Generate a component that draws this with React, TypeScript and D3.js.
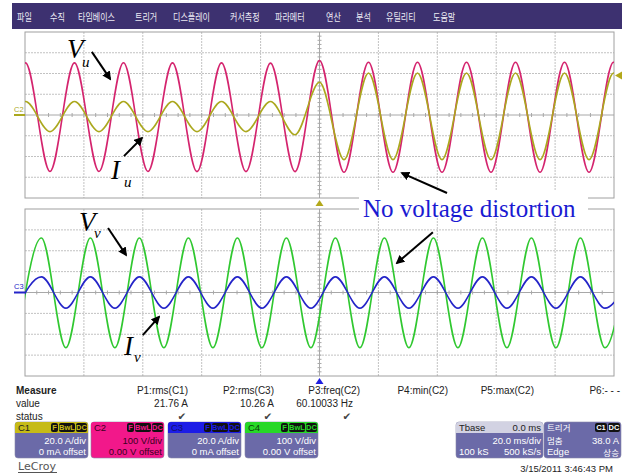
import React from 'react';
import * as d3 from 'd3';

// ---------------- data ----------------
const menuItems = ['파일', '수직', '타임베이스', '트리거', '디스플레이', '커서측정', '파라메터', '연산', '분석', '유틸리티', '도움말'];

const timeDomain = [-100, 100]; // ms : 10 div x 20 ms/div
const voltDomain = [-400, 400]; // V  : 8 div x 100 V/div
const ampDomain = [-80, 80]; // A  : 8 div x 20 A/div

// extremum instants (ms) of phase U traces (trough, peak, trough ...)
const tU = [-108.16, -99.84, -91.52, -83.2, -74.88, -66.56, -58.24, -49.92, -41.6, -33.28, -24.96, -16.64, -8.32, 0, 8.32, 16.64, 24.96, 33.28, 41.6, 49.92, 58.24, 66.56, 74.88, 83.2, 91.52, 99.84, 108.16];
// Vu extremes (V)
const vuExt = [-272, 251, -272, 251, -272, 252, -272, 251, -273, 251, -273, 250, -273, 262, -276, 254, -276, 254, -276, 254, -276, 254, -276, 254, -276, 254, -276];
// Iu extremes (A)
const iuExt = [-16, 13, -16, 13, -16, 13, -16, 13, -16, 13, -16, 13, -19, 31.5, -43, 40.5, -43, 40.5, -43, 40.5, -43, 40.5, -43, 40.5, -43, 40.5, -43];

// extremum instants (ms) of phase V traces
const tV = [-102.76, -94.44, -86.12, -77.8, -69.48, -61.16, -52.84, -44.52, -36.2, -27.88, -19.56, -11.24, -2.92, 5.4, 13.72, 22.04, 30.36, 38.68, 47, 55.32, 63.64, 71.96, 80.28, 88.6, 96.92, 105.24];
const vvExt = [-265, 261, -265, 261, -265, 261, -265, 261, -265, 261, -265, 261, -265, 261, -265, 261, -265, 261, -265, 261, -265, 261, -265, 261, -265, 261];
const ivExt = [-15, 15, -15, 15, -15, 15, -15, 15, -15, 15, -15, 15, -15, 15, -15, 15, -15, 15, -15, 15, -15, 15, -15, 15, -15, 15];

const triggerLevel = 38; // A on C1

const measureNames = ['P1:rms(C1)', 'P2:rms(C3)', 'P3:freq(C2)', 'P4:min(C2)', 'P5:max(C2)', 'P6:- - -'];
const measureValues = ['21.76 A', '10.26 A', '60.10033 Hz', '', '', ''];
const measureStatus = [true, true, true, false, false, false];

const chNames = ['C1', 'C2', 'C3', 'C4'];
const chScales = ['20.0 A/div', '100 V/div', '20.0 A/div', '100 V/div'];
const chOffsets = ['0 mA offset', '0.00 V offset', '0 mA offset', '0.00 V offset'];

// ---------------- layout / style ----------------
const W = 626;
const H = 474;
const PX0 = 25;
const PX1 = 614;
const panels = [
  { top: 32, bottom: 198 },
  { top: 209, bottom: 376 },
];
const menuX = [17, 50, 78, 135, 173, 230, 275, 326, 356, 386, 433];
const measureRight = [188, 274, 360, 448, 534, 620];
const valueRight = [188, 274, 353];
const boxX = [15, 91, 168, 245];
const boxW = 73;

const C_VU = '#d4246e';
const C_IU = '#aba81e';
const C_VV = '#30c830';
const C_IV = '#2424c8';
const BODY = '#6b6aa8';
const HEAD = ['#c6bb17', '#f2188a', '#1c1ce6', '#27d827'];
const HEADTXT = ['#222', '#3a0020', '#10106a', '#0a3a0a'];

const SANS = '"Liberation Sans", Arial, sans-serif';
const SERIF = '"Liberation Serif", "Times New Roman", serif';
const KR = '"Noto Sans CJK KR", sans-serif';

const x = d3.scaleLinear().domain(timeDomain).range([PX0, PX1]);
const yV = panels.map((p) => d3.scaleLinear().domain(voltDomain).range([p.bottom, p.top]));
const yI = panels.map((p) => d3.scaleLinear().domain(ampDomain).range([p.bottom, p.top]));

function tracePath(ts: number[], vs: number[], y: d3.ScaleLinear<number, number>) {
  const line = d3
    .line<number>()
    .x((_, i) => x(ts[i]))
    .y((v) => y(v))
    .curve(d3.curveMonotoneX);
  return line(vs) || '';
}

// annotation arrows in data space (time ms, volts on panel's V scale)
const arrows = [
  { p: 0, from: [-77.3, 304], to: [-71.1, 174] },
  { p: 0, from: [-66.4, -198], to: [-60.3, -111] },
  { p: 1, from: [-71.8, 309], to: [-65.7, 180] },
  { p: 1, from: [-60.0, -204], to: [-54.5, -117] },
  { p: 0, from: [43.3, -376], to: [28.0, -280] },
  { p: 1, from: [38.5, 289], to: [26.3, 141] },
];

function Grid({ p }: { p: number }) {
  const { top, bottom } = panels[p];
  const xs = d3.range(1, 10).map((i) => PX0 + ((PX1 - PX0) * i) / 10);
  const ys = d3.range(1, 8).map((i) => top + ((bottom - top) * i) / 8);
  const cx = x(0);
  const cy = (top + bottom) / 2;
  const xt = d3.range(1, 50).map((i) => PX0 + ((PX1 - PX0) * i) / 50);
  const yt = d3.range(1, 40).map((i) => top + ((bottom - top) * i) / 40);
  return (
    <g>
      <rect x={PX0} y={top} width={PX1 - PX0} height={bottom - top} fill="#fff" />
      {xs.map((v, i) =>
        i === 4 ? null : (
          <line key={'v' + i} x1={v} x2={v} y1={top} y2={bottom} stroke="#c2c2c2" strokeDasharray="2 1" />
        )
      )}
      {ys.map((v, i) =>
        i === 3 ? null : (
          <line key={'h' + i} x1={PX0} x2={PX1} y1={v} y2={v} stroke="#c2c2c2" strokeDasharray="2 1" />
        )
      )}
      <line x1={PX0} x2={PX1} y1={cy} y2={cy} stroke="#a8a8a8" />
      <line x1={cx} x2={cx} y1={top} y2={bottom} stroke="#a8a8a8" />
      {xt.map((v, i) => (
        <line key={'xt' + i} x1={v} x2={v} y1={cy - 2} y2={cy + 2} stroke="#a8a8a8" />
      ))}
      {yt.map((v, i) => (
        <line key={'yt' + i} x1={cx - 2} x2={cx + 2} y1={v} y2={v} stroke="#a8a8a8" />
      ))}
      <rect x={PX0} y={top} width={PX1 - PX0} height={bottom - top} fill="none" stroke="#a0a0a0" />
    </g>
  );
}

function Badge({ x0, y0, w, label, color }: { x0: number; y0: number; w: number; label: string; color: string }) {
  return (
    <g>
      <rect x={x0} y={y0} width={w} height={9} rx={2} fill="#111" />
      <text x={x0 + w / 2} y={y0 + 7.3} textAnchor="middle" fontFamily={SANS} fontSize={7.5} fontWeight="bold" fill={color}>
        {label}
      </text>
    </g>
  );
}

export default function App() {
  const top = panels[0];
  const bot = panels[1];
  return (
    <svg width={W} height={H} style={{ position: 'absolute', left: 0, top: 0, background: '#fff' }}>
      <defs>
        {panels.map((p, i) => (
          <clipPath id={'clip' + i} key={i}>
            <rect x={PX0} y={p.top} width={PX1 - PX0} height={p.bottom - p.top} />
          </clipPath>
        ))}
        <marker id="ah" viewBox="0 0 10 10" refX="8" refY="5" markerWidth="4.5" markerHeight="4.5" orient="auto">
          <path d="M0,0 L10,5 L0,10 z" fill="#000" />
        </marker>
      </defs>

      {/* menu bar */}
      <rect x={12} y={3} width={610} height={26} fill="#3d3170" />
      {menuItems.map((m, i) => (
        <text
          key={m}
          x={menuX[i]}
          y={21}
          fontFamily={KR}
          fontSize={10}
          fill="#ecebf4"
          textLength={[...m].length * 7.4}
          lengthAdjust="spacingAndGlyphs"
        >
          {m}
        </text>
      ))}

      {/* panels */}
      <Grid p={0} />
      <Grid p={1} />

      <g clipPath="url(#clip0)">
        <path d={tracePath(tU, vuExt, yV[0])} fill="none" stroke={C_VU} strokeWidth={1.6} />
        <path d={tracePath(tU, iuExt, yI[0])} fill="none" stroke={C_IU} strokeWidth={1.6} />
      </g>
      <g clipPath="url(#clip1)">
        <path d={tracePath(tV, vvExt, yV[1])} fill="none" stroke={C_VV} strokeWidth={1.6} />
        <path d={tracePath(tV, ivExt, yI[1])} fill="none" stroke={C_IV} strokeWidth={1.6} />
      </g>

      {/* channel markers */}
      <text x={14} y={112} fontFamily={SANS} fontSize={7.5} fill={C_IU}>C2</text>
      <line x1={14} x2={PX0} y1={yI[0](0)} y2={yI[0](0)} stroke={C_IU} strokeWidth={2} />
      <text x={14} y={289} fontFamily={SANS} fontSize={7.5} fill={C_IV}>C3</text>
      <line x1={14} x2={PX0} y1={yI[1](0)} y2={yI[1](0)} stroke={C_IV} strokeWidth={2} />

      {/* trigger markers */}
      <path d={`M${x(0)},${top.bottom + 2} l4,6 l-8,0 z`} fill="#b3a81a" />
      <path d={`M${x(0)},${bot.bottom + 2} l4,6 l-8,0 z`} fill="#2020e0" />
      <path d={`M${PX1 + 1},${yI[0](triggerLevel)} l7,-4 l0,8 z`} fill="#b3a81a" />

      {/* annotation box */}
      <rect x={359} y={190} width={229} height={24} fill="#fff" />
      <text x={363} y={217} fontFamily={SERIF} fontSize={25} fill="#1a1ad2">No voltage distortion</text>

      {/* labels */}
      <text x={67} y={58} fontFamily={SERIF} fontStyle="italic" fontSize={27} fill="#000">V</text>
      <text x={82} y={67} fontFamily={SERIF} fontStyle="italic" fontSize={15} fill="#000">u</text>
      <text x={111} y={179} fontFamily={SERIF} fontStyle="italic" fontSize={27} fill="#000">I</text>
      <text x={124} y={187} fontFamily={SERIF} fontStyle="italic" fontSize={15} fill="#000">u</text>
      <text x={79} y={231} fontFamily={SERIF} fontStyle="italic" fontSize={27} fill="#000">V</text>
      <text x={94} y={238} fontFamily={SERIF} fontStyle="italic" fontSize={15} fill="#000">v</text>
      <text x={124} y={355} fontFamily={SERIF} fontStyle="italic" fontSize={27} fill="#000">I</text>
      <text x={134} y={362} fontFamily={SERIF} fontStyle="italic" fontSize={15} fill="#000">v</text>

      {arrows.map((a, i) => (
        <line
          key={i}
          x1={x(a.from[0])}
          y1={yV[a.p](a.from[1])}
          x2={x(a.to[0])}
          y2={yV[a.p](a.to[1])}
          stroke="#000"
          strokeWidth={2}
          markerEnd="url(#ah)"
        />
      ))}

      {/* measure table */}
      <text x={16} y={394} fontFamily={SANS} fontSize={10} fontWeight="bold" fill="#222">Measure</text>
      <text x={16} y={407} fontFamily={SANS} fontSize={10} fill="#222">value</text>
      <text x={16} y={420} fontFamily={SANS} fontSize={10} fill="#222">status</text>
      {measureNames.map((m, i) => (
        <text key={m} x={measureRight[i]} y={394} textAnchor="end" fontFamily={SANS} fontSize={10} fill="#222">
          {m}
        </text>
      ))}
      {measureValues.map((v, i) =>
        v ? (
          <text key={'v' + i} x={valueRight[i]} y={407} textAnchor="end" fontFamily={SANS} fontSize={10} fill="#222">
            {v}
          </text>
        ) : null
      )}
      {measureStatus.map((s, i) =>
        s ? (
          <text key={'s' + i} x={valueRight[i] - 6} y={420} textAnchor="middle" fontFamily='"DejaVu Sans"' fontSize={10.5} fill="#444">
            ✔
          </text>
        ) : null
      )}

      {/* channel boxes */}
      {chNames.map((c, i) => {
        const bx = boxX[i];
        const isPink = i === 1;
        const txt = isPink ? '#3a0020' : '#fff';
        return (
          <g key={c}>
            <rect x={bx} y={422} width={boxW} height={36} rx={3} fill={isPink ? HEAD[1] : BODY} stroke="#8888aa" strokeWidth={0.6} />
            <path d={`M${bx + 3},422 h${boxW - 6} a3,3 0 0 1 3,3 v8 h-${boxW} v-8 a3,3 0 0 1 3,-3 z`} fill={HEAD[i]} />
            <text x={bx + 3} y={431} fontFamily={SANS} fontSize={9.5} fill={HEADTXT[i]}>{c}</text>
            <Badge x0={bx + 36} y0={423} w={7} label="F" color={HEAD[i]} />
            <Badge x0={bx + 44} y0={423} w={16} label="BwL" color={HEAD[i]} />
            <Badge x0={bx + 61} y0={423} w={11} label="DC" color={HEAD[i]} />
            <text x={bx + boxW - 2} y={444} textAnchor="end" fontFamily={SANS} fontSize={9.5} fill={txt}>
              {chScales[i]}
            </text>
            <text x={bx + boxW - 2} y={455} textAnchor="end" fontFamily={SANS} fontSize={9.5} fill={txt}>
              {chOffsets[i]}
            </text>
          </g>
        );
      })}

      {/* timebase box */}
      <g>
        <rect x={456} y={422} width={87} height={36} rx={3} fill={BODY} stroke="#8888aa" strokeWidth={0.6} />
        <path d="M459,422 h81 a3,3 0 0 1 3,3 v8 h-87 v-8 a3,3 0 0 1 3,-3 z" fill="#d2d2e2" />
        <text x={459} y={431} fontFamily={SANS} fontSize={9.5} fill="#222">Tbase</text>
        <text x={541} y={431} textAnchor="end" fontFamily={SANS} fontSize={9.5} fill="#222">0.0 ms</text>
        <text x={541} y={444} textAnchor="end" fontFamily={SANS} fontSize={9.5} fill="#fff">20.0 ms/div</text>
        <text x={459} y={455} fontFamily={SANS} fontSize={9.5} fill="#fff">100 kS</text>
        <text x={541} y={455} textAnchor="end" fontFamily={SANS} fontSize={9.5} fill="#fff">500 kS/s</text>
      </g>
      {/* trigger box */}
      <g>
        <rect x={544} y={422} width={77} height={36} rx={3} fill={BODY} stroke="#8888aa" strokeWidth={0.6} />
        <text x={547} y={431} fontFamily={KR} fontSize={8.5} fill="#fff">트리거</text>
        <Badge x0={595} y0={423} w={12} label="C1" color="#fff" />
        <Badge x0={608} y0={423} w={12} label="DC" color="#fff" />
        <text x={547} y={444} fontFamily={KR} fontSize={8.5} fill="#fff">멈춤</text>
        <text x={619} y={444} textAnchor="end" fontFamily={SANS} fontSize={9.5} fill="#fff">38.0 A</text>
        <text x={547} y={455} fontFamily={SANS} fontSize={9.5} fill="#fff">Edge</text>
        <text x={619} y={455.5} textAnchor="end" fontFamily={KR} fontSize={8.5} fill="#fff">상승</text>
      </g>

      {/* footer */}
      <text x={18} y={470} fontFamily='"DejaVu Sans", sans-serif' fontSize={11} fill="#555">LeCroy</text>
      <line x1={18} x2={57} y1={472.5} y2={472.5} stroke="#555" strokeWidth={1} />
      <text x={613} y={472} textAnchor="end" fontFamily={SANS} fontSize={9.5} fill="#222">3/15/2011 3:46:43 PM</text>
    </svg>
  );
}
